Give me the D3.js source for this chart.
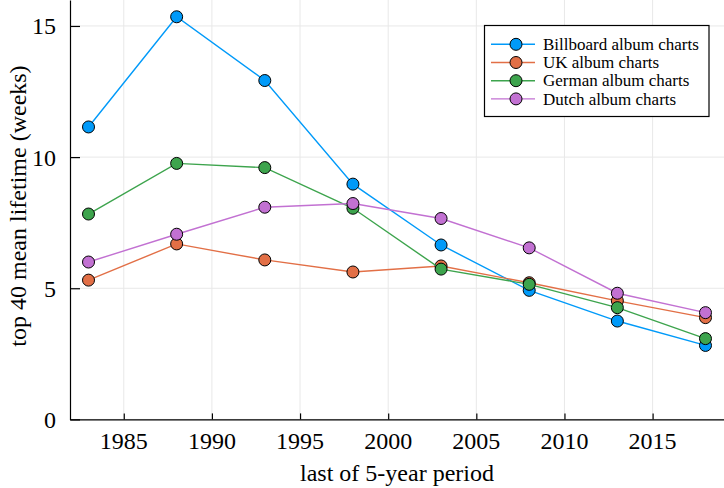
<!DOCTYPE html>
<html>
<head>
<meta charset="utf-8">
<script src="https://cdn.jsdelivr.net/npm/d3@7"></script>
<style>
	body { margin: 0; background: #fff; }
	svg { display: block; font-family: "Liberation Serif", "DejaVu Serif", serif; }
	.grid line { stroke: #e8e8e8; stroke-width: 1; }
	.tick-label { font-size: 24px; fill: #000; }
	.axis-label { font-size: 24px; fill: #000; }
	.legend text { font-size: 17px; fill: #000; }
</style>
</head>
<body>
<svg id="chart" width="724" height="488"></svg>
<script>
var years = [1983, 1988, 1993, 1998, 2003, 2008, 2013, 2018];
var billboard = [11.15, 15.35, 12.92, 8.97, 6.65, 4.92, 3.75, 2.82];
var uk = [5.31, 6.69, 6.08, 5.62, 5.85, 5.21, 4.52, 3.88];
var german = [7.83, 9.76, 9.6, 8.05, 5.73, 5.15, 4.26, 3.08];
var dutch = [6.0, 7.06, 8.09, 8.23, 7.66, 6.54, 4.81, 4.07];

var seriesNames = ["Billboard album charts", "UK album charts", "German album charts", "Dutch album charts"];
var seriesColors = ["#009af9", "#e26f46", "#3da44d", "#c271d2"];
var xTicks = [1985, 1990, 1995, 2000, 2005, 2010, 2015];
var yTicks = [0, 5, 10, 15];

var xLabel = "last of 5-year period";
var yLabel = "top 40 mean lifetime (weeks)";

var svg = d3.select("#chart");

var plot = { left: 70, right: 724, top: 0, bottom: 419.4 };

var x = d3.scaleLinear().domain([1981.95, 2019.05]).range([plot.left, plot.right]);
var y = d3.scaleLinear().domain([0, 15.99]).range([plot.bottom, plot.top]);

var series = [billboard, uk, german, dutch].map(function(values, i) {
	return {
		name : seriesNames[i],
		color : seriesColors[i],
		points : years.map(function(yr, j) { return { x : yr, y : values[j] }; })
	};
});

// grid
var grid = svg.append("g").attr("class", "grid");
grid.selectAll("line.v").data(xTicks).enter().append("line")
	.attr("x1", function(d) { return x(d); }).attr("x2", function(d) { return x(d); })
	.attr("y1", plot.top).attr("y2", plot.bottom);
grid.selectAll("line.h").data(yTicks).enter().append("line")
	.attr("x1", plot.left).attr("x2", plot.right)
	.attr("y1", function(d) { return y(d); }).attr("y2", function(d) { return y(d); });

// axes (ticks drawn inward like the GR backend)
var xAxis = d3.axisBottom(x).tickValues(xTicks).tickSizeInner(-6).tickSizeOuter(0).tickFormat("");
var yAxis = d3.axisLeft(y).tickValues(yTicks).tickSizeInner(-10).tickSizeOuter(0).tickFormat("");

svg.append("g").attr("transform", "translate(0," + plot.bottom + ")").call(xAxis)
	.call(function(g) {
		g.select(".domain").attr("stroke", "#000").attr("stroke-width", 1.2);
		g.selectAll(".tick line").attr("stroke", "#000").attr("stroke-width", 1.2);
	});
svg.append("g").attr("transform", "translate(" + plot.left + ",0)").call(yAxis)
	.call(function(g) {
		g.select(".domain").attr("stroke", "#000").attr("stroke-width", 1.2);
		g.selectAll(".tick line").attr("stroke", "#000").attr("stroke-width", 1.2);
	});

svg.selectAll("text.xt").data(xTicks).enter().append("text")
	.attr("class", "tick-label")
	.attr("x", function(d) { return x(d); })
	.attr("y", 441)
	.attr("dy", "0.35em")
	.attr("text-anchor", "middle")
	.text(function(d) { return d; });

svg.selectAll("text.yt").data(yTicks).enter().append("text")
	.attr("class", "tick-label")
	.attr("x", 56)
	.attr("y", function(d) { return y(d); })
	.attr("dy", "0.35em")
	.attr("text-anchor", "end")
	.text(function(d) { return d; });

svg.append("text").attr("class", "axis-label")
	.attr("x", (plot.left + plot.right) / 2).attr("y", 473)
	.attr("dy", "0.35em").attr("text-anchor", "middle")
	.text(xLabel);

svg.append("text").attr("class", "axis-label")
	.attr("transform", "translate(18,206) rotate(-90)")
	.attr("dy", "0.35em").attr("text-anchor", "middle")
	.text(yLabel);

// series, each line then its markers
var line = d3.line().x(function(d) { return x(d.x); }).y(function(d) { return y(d.y); });

series.forEach(function(s) {
	var g = svg.append("g");
	g.append("path").attr("d", line(s.points))
		.attr("fill", "none").attr("stroke", s.color).attr("stroke-width", 1.4);
	g.selectAll("circle").data(s.points).enter().append("circle")
		.attr("cx", function(d) { return x(d.x); })
		.attr("cy", function(d) { return y(d.y); })
		.attr("r", 6)
		.attr("fill", s.color).attr("stroke", "#000").attr("stroke-width", 1);
});

// legend
var legend = svg.append("g").attr("class", "legend");
legend.append("rect")
	.attr("x", 484.5).attr("y", 25.5).attr("width", 224.5).attr("height", 91)
	.attr("fill", "#fff").attr("stroke", "#000").attr("stroke-width", 1.2);

var items = legend.selectAll("g.item").data(series).enter().append("g")
	.attr("transform", function(d, i) { return "translate(0," + (44.3 + i * 18.2) + ")"; });
items.append("line").attr("x1", 491).attr("x2", 535).attr("y1", 0).attr("y2", 0)
	.attr("stroke", function(d) { return d.color; }).attr("stroke-width", 1.4);
items.append("circle").attr("cx", 516).attr("cy", 0).attr("r", 6)
	.attr("fill", function(d) { return d.color; }).attr("stroke", "#000").attr("stroke-width", 1);
items.append("text").attr("x", 543).attr("y", 0).attr("dy", "0.33em")
	.text(function(d) { return d.name; });
</script>
</body>
</html>
